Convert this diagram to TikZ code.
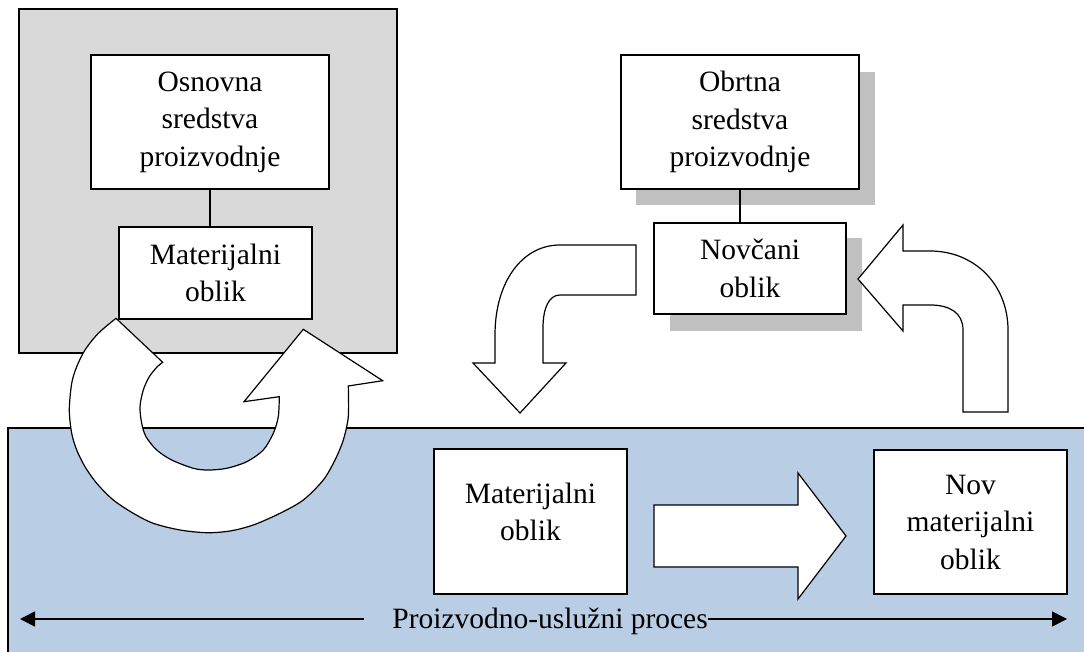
\documentclass[tikz,border=0pt]{standalone}
\usepackage{fontspec}
\setmainfont{Liberation Serif}
\usetikzlibrary{arrows.meta}
\definecolor{grayfill}{HTML}{D9D9D9}
\definecolor{bluefill}{HTML}{B9CDE5}
\definecolor{shadowgray}{HTML}{C0C0C0}
\tikzset{
  box/.style={draw, fill=white, line width=1.3pt, inner sep=0pt, align=center,
    font=\fontsize{29.5}{37.5}\selectfont},
  txt/.style={inner sep=0pt, align=center, font=\fontsize{29.5}{37.5}\selectfont},
  blockarrow/.style={draw, fill=white, line width=1.2pt, line join=miter},
  link/.style={line width=1.2pt},
}
\begin{document}
\begin{tikzpicture}[x=1pt,y=-1pt]
\useasboundingbox (0,0) rectangle (1084,652);
\clip (0,0) rectangle (1084,652);
% background panels
\draw[line width=1.3pt, fill=grayfill] (19,9) rectangle (397,353);
\draw[line width=1.3pt, fill=bluefill] (8,428) rectangle (1110,680);
% shadows
\fill[shadowgray] (636,72) rectangle (875,205);
\fill[shadowgray] (670,238) rectangle (862,331);
% boxes
\node[box, minimum width=238pt, minimum height=134pt] (osn) at (210,122) {Osnovna\\sredstva\\proizvodnje};
\node[box, minimum width=193pt, minimum height=92pt] (matL) at (215.5,273) {Materijalni\\oblik};
\node[box, minimum width=238pt, minimum height=134pt] (obr) at (740,122) {Obrtna\\sredstva\\proizvodnje};
\node[box, minimum width=192pt, minimum height=91pt] (nov) at (750,268.5) {Novčani\\oblik};
\node[box, minimum width=193pt, minimum height=145pt] (matB) at (530.5,521.5) {};
\node[txt] (matBt) at (530.5,512) {Materijalni\\oblik};
\node[box, minimum width=193pt, minimum height=144pt] (nm) at (970.5,522) {Nov\\materijalni\\oblik};
% connectors
\draw[link] (osn.south) -- (osn.south |- matL.north);
\draw[link] (obr.south) -- (obr.south |- nov.north);
% circular arrow
\path[blockarrow] plot[smooth] coordinates {(116,318.3) (98.3,333.3) (85,350) (76.7,366.7) (71.7,383.3) (69.3,410) (71.7,433.3) (76.7,450) (85,466.7) (96.7,483.3) (113.3,500) (133.3,513.3) (153.3,523.3) (180,530) (206.7,532.7) (230,531) (253.3,525) (280,513.3) (303.3,500) (323.3,480) (335,460) (343.3,440) (348.3,416.7) (348.3,386)}
  -- (382.7,380.7) -- (303.3,329.3) -- (244,401.7) -- (279.3,396.7)
  -- plot[smooth] coordinates {(279.3,396.7) (278.3,416.7) (273.3,433.3) (263.3,450) (246.7,461.7) (226.7,468.3) (208.3,470) (193.3,468.3) (171.7,460) (156.7,450) (146,436.7) (141.7,423.3) (140,406.7) (143.3,390) (149.3,376.7) (157.3,366.7) (162.7,362.3)}
  -- cycle;
% left bent arrow
\path[blockarrow] (560,245) -- (636,245) -- (636,295) -- (560,295)
  .. controls (549,295) and (543,308) .. (543,328) -- (543,363) -- (566,363)
  -- (520,413) -- (473,363) -- (495,363) -- (495,335)
  .. controls (495,282) and (522,245) .. (560,245) -- cycle;
% right bent arrow
\path[blockarrow] (858,279) -- (903,225) -- (903,251) -- (930,251)
  .. controls (975,251) and (1008,285) .. (1008,330) -- (1008,412) -- (963,412)
  -- (963,330) .. controls (963,313) and (950,305) .. (930,305)
  -- (903,305) -- (903,331) -- cycle;
% straight arrow
\path[blockarrow] (654,505) -- (798,505) -- (798,473) -- (846,536) -- (798,599)
  -- (798,567) -- (654,567) -- cycle;
% process line
\coordinate (pL) at (20,619);
\coordinate (pR) at (1067,619);
\draw[line width=1.6pt, {Triangle[length=15pt,width=15pt]}-{Triangle[length=15pt,width=15pt]}] (pL) -- (pR);
\node[txt, fill=bluefill, inner ysep=2pt, anchor=east] (proc) at (708,621) {\hspace{28pt}Proizvodno-uslužni proces};
\end{tikzpicture}
\end{document}
